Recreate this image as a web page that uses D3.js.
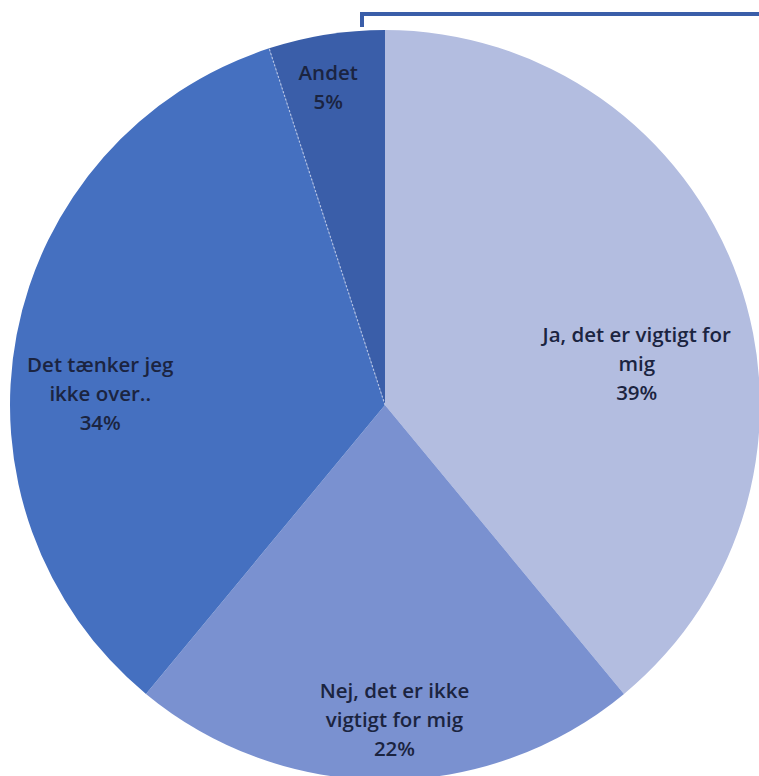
<!DOCTYPE html>
<html><head><meta charset="utf-8">
<script src="https://cdn.jsdelivr.net/npm/d3@7"></script>
<style>html,body{margin:0;padding:0;background:#fff;overflow:hidden}</style>
</head><body>
<svg id="c" width="759" height="776"></svg>
<script>
const categories = ["Ja, det er vigtigt for mig", "Nej, det er ikke vigtigt for mig", "Det tænker jeg ikke over..", "Andet"];
const values = [39, 22, 34, 5];
const labelLines = [["Ja, det er vigtigt for", "mig"], ["Nej, det er ikke", "vigtigt for mig"], ["Det tænker jeg", "ikke over.."], ["Andet"]];
const colors = ["#b3bde0", "#7a91d0", "#4570c0", "#3a5ea9"];

const svg = d3.select("#c");
const cx = 385, cy = 405, r = 375;
const g = svg.append("g").attr("transform", `translate(${cx},${cy})`);

const pie = d3.pie().sort(null).value(d => d)(values);
const arc = d3.arc().innerRadius(0).outerRadius(r);

g.selectAll("path.s").data(pie).join("path").attr("class", "s")
  .attr("d", arc).attr("fill", (d, i) => colors[i]);

// dotted separator between "Det tænker" and "Andet"
const a = pie[3].startAngle;
g.append("line").attr("x1", 0).attr("y1", 0)
  .attr("x2", r * Math.sin(a)).attr("y2", -r * Math.cos(a))
  .attr("stroke", "#c9d3ee").attr("stroke-width", 1.2).attr("stroke-dasharray", "2,2").attr("opacity", 0.8);

// top bracket line
svg.append("path").attr("d", "M362,27 L362,14 L759,14")
  .attr("fill", "none").attr("stroke", "#3a5ea9").attr("stroke-width", 4);

// labels
const labelRadiusFrac = [0.68, 0.84, 0.76, 0.86];
const labelAngleShift = [0.185, -0.03, -0.15, -0.02];
pie.forEach((d, i) => {
  const ang = (d.startAngle + d.endAngle) / 2 + labelAngleShift[i];
  const rr = r * labelRadiusFrac[i];
  const x = rr * Math.sin(ang), y = -rr * Math.cos(ang);
  const lines = labelLines[i].concat([values[i] + "%"]);
  const lh = 29;
  const t = g.append("text").attr("text-anchor", "middle")
    .attr("font-family", "'Open Sans', Lato, sans-serif").attr("font-size", 20.5)
    .attr("font-weight", 600)
    .attr("fill", "#1b2440");
  lines.forEach((ln, k) => {
    t.append("tspan").attr("x", x).attr("y", y + (k - (lines.length - 1) / 2) * lh + 7).text(ln);
  });
});
</script>
</body></html>
